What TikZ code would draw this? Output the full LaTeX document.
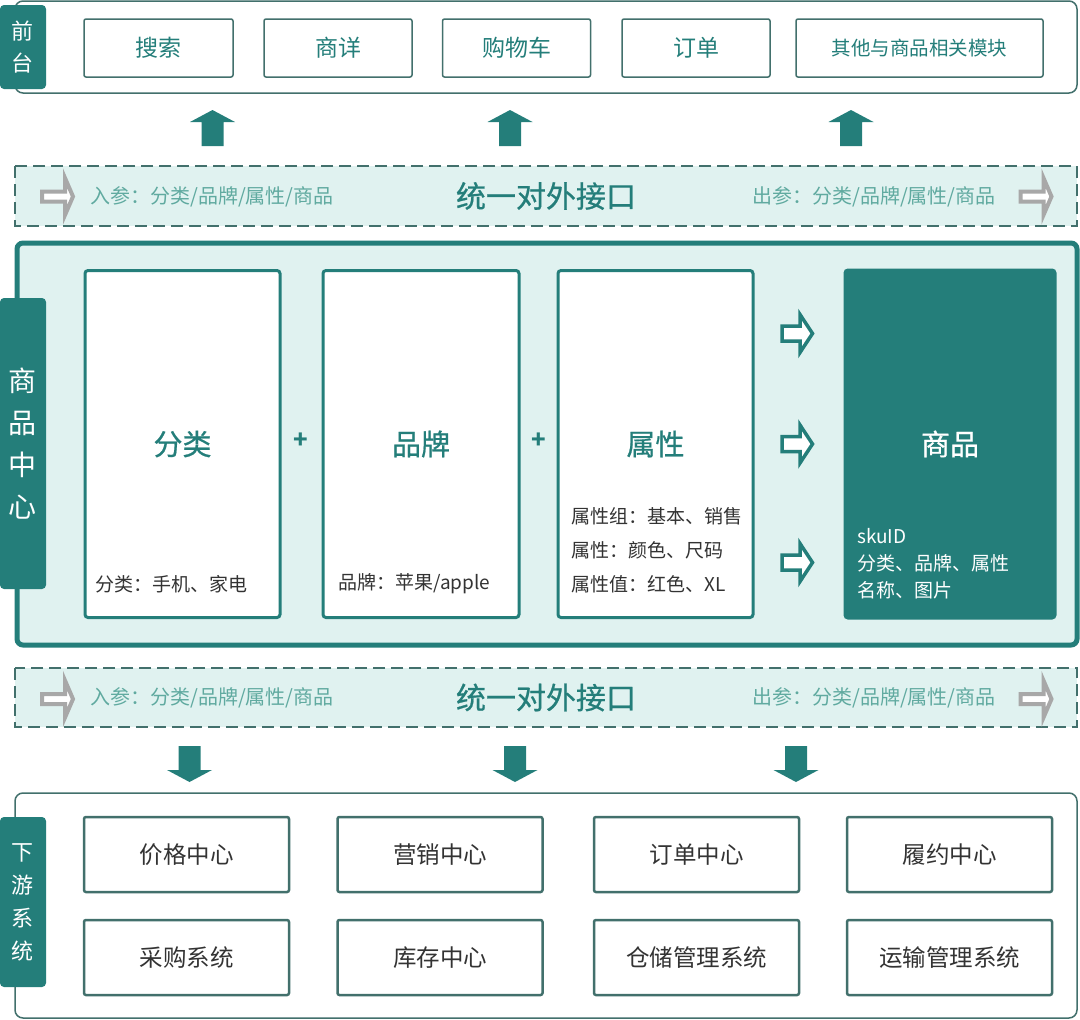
\documentclass[tikz,border=0pt]{standalone}
\usepackage{fontspec}
\setmainfont{Noto Sans CJK SC}
\newfontfamily\medfont[FakeBold=0.7]{Noto Sans CJK SC}
\usetikzlibrary{positioning}

\definecolor{dteal}{RGB}{36,126,122}
\definecolor{lteal}{RGB}{224,242,240}
\definecolor{mteal}{RGB}{96,170,160}
\definecolor{lineteal}{RGB}{66,112,108}
\definecolor{txtgray}{RGB}{51,51,51}
\definecolor{arrgray}{RGB}{168,168,168}

% font size and line distance, both in pt
\newcommand{\setfs}[2]{\fontsize{#1}{#2}\selectfont}

\tikzset{
  frame/.style={draw=lineteal, line width=1.5pt, rounded corners=8pt, fill=white},
  tab/.style={fill=dteal, rounded corners=4pt, text=white, align=center, minimum width=46pt, inner sep=0pt},
  topbox/.style={draw=lineteal, line width=1.5pt, rounded corners=2pt, fill=white, text=dteal, minimum height=58pt, inner sep=0pt, font=\setfs{23}{28}},
  band/.style={draw=lineteal, line width=1.5pt, dash pattern=on 12pt off 6pt, fill=lteal},
  bandtext/.style={text=mteal, inner sep=0pt, font=\setfs{20}{24}},
  bandtitle/.style={text=dteal, inner sep=0pt, font=\medfont\setfs{30}{36}},
  panel/.style={draw=dteal, line width=5pt, rounded corners=6pt, fill=lteal},
  partbox/.style={draw=dteal, line width=3pt, rounded corners=3pt, fill=white, minimum width=195pt, minimum height=347pt, inner sep=0pt},
  parttitle/.style={text=dteal, font=\medfont\setfs{29}{35}, inner sep=0pt},
  parttext/.style={text=txtgray, font=\setfs{19}{23}, align=left, inner sep=0pt, anchor=west},
  plus/.style={text=dteal, font=\bfseries\setfs{24}{28}, inner sep=0pt},
  sysbox/.style={draw=lineteal, line width=2.5pt, rounded corners=2pt, fill=white, text=txtgray, minimum width=205pt, minimum height=75pt, inner sep=0pt, font=\setfs{23.5}{28}},
  pics/uparrow/.style={code={\path[pic actions] (0,-18) -- (22.5,-6) -- (11,-6) -- (11,18) -- (-11,18) -- (-11,-6) -- (-22.5,-6) -- cycle;}},
  pics/downarrow/.style={code={\path[pic actions] (0,18) -- (22.5,6) -- (11,6) -- (11,-18) -- (-11,-18) -- (-11,6) -- (-22.5,6) -- cycle;}},
  pics/hollowarrow/.style={code={\path[pic actions] (-15,-7.5) -- (3,-7.5) -- (3,-19) -- (15.5,0) -- (3,19) -- (3,7.5) -- (-15,7.5) -- cycle;}},
  pics/grayarrow/.style={code={\path[pic actions] (-15.5,-5) -- (7.5,-5) -- (7.5,-18.5) -- (15.5,0) -- (7.5,18.5) -- (7.5,5) -- (-15.5,5) -- cycle;}},
}

\begin{document}
\begin{tikzpicture}[x=1pt,y=-1pt]
\useasboundingbox (0,0) rectangle (1080,1020);

% Front layer
\draw[frame] (15,1) rectangle (1077,93);
\node[tab, minimum height=84pt, font=\setfs{22}{32}] (fronttab) at (23,47) {前\\台};
\node[topbox, minimum width=149pt] (search) at (158.5,48) {搜索};
\node[topbox, minimum width=148pt] (detail) at (338,48) {商详};
\node[topbox, minimum width=148pt] (cart) at (516.5,48) {购物车};
\node[topbox, minimum width=148pt] (order) at (696,48) {订单};
\node[topbox, minimum width=247pt, font=\setfs{19.5}{24}] (others) at (919.5,48) {其他与商品相关模块};

% Arrows up to the front layer
\pic[fill=dteal] (upA) at (212.5,128) {uparrow};
\pic[fill=dteal] (upB) at (510,128) {uparrow};
\pic[fill=dteal] (upC) at (851,128) {uparrow};

% Upper interface band
\draw[band] (15,166) rectangle (1077,226);
\pic[draw=arrgray, line width=4pt, fill=white] (inA) at (57.5,196.5) {grayarrow};
\node[bandtext, anchor=west] (paramInA) at (90,196.5) {入参：分类/品牌/属性/商品};
\node[bandtitle] (apiA) at (546,196) {统一对外接口};
\node[bandtext, anchor=east] (paramOutA) at (996,196.5) {出参：分类/品牌/属性/商品};
\pic[draw=arrgray, line width=4pt, fill=white] (outA) at (1036,196.5) {grayarrow};

% Product center
\draw[panel] (17,243) rectangle (1077,645);
\node[tab, minimum height=291pt, font=\setfs{28}{42}] (centertab) at (23,443.5) {商\\品\\中\\心};

\node[partbox] (category) at (182.5,444) {};
\node[parttitle] at (category.center) {分类};
\node[parttext] (categoryText) at (95,584) {分类：手机、家电};

\node[plus] (plusA) at (301,441) {+};

\node[partbox, minimum width=196pt] (brand) at (421,444) {};
\node[parttitle] at (brand.center) {品牌};
\node[parttext] (brandText) at (338,584) {品牌：苹果/apple};

\node[plus] (plusB) at (539,441) {+};

\node[partbox] (attr) at (655.5,444) {};
\node[parttitle] at (attr.center) {属性};
\node[parttext, font=\setfs{19}{34}] (attrText) at (571,550) {属性组：基本、销售\\属性：颜色、尺码\\属性值：红色、XL};

\pic[draw=dteal, line width=3.5pt, fill=white] (toSkuA) at (797,333.5) {hollowarrow};
\pic[draw=dteal, line width=3.5pt, fill=white] (toSkuB) at (797,444) {hollowarrow};
\pic[draw=dteal, line width=3.5pt, fill=white] (toSkuC) at (797,562.5) {hollowarrow};

\node[partbox, fill=dteal, minimum width=210pt, minimum height=348pt] (sku) at (950,444) {};
\node[parttitle, text=white] at (sku.center) {商品};
\node[parttext, text=white, font=\setfs{19}{27}] (skuText) at (857,564) {skuID\\分类、品牌、属性\\名称、图片};

% Lower interface band
\draw[band] (15,668) rectangle (1077,727);
\pic[draw=arrgray, line width=4pt, fill=white] (inB) at (57.5,699) {grayarrow};
\node[bandtext, anchor=west] (paramInB) at (90,698) {入参：分类/品牌/属性/商品};
\node[bandtitle] (apiB) at (546,697.5) {统一对外接口};
\node[bandtext, anchor=east] (paramOutB) at (996,698) {出参：分类/品牌/属性/商品};
\pic[draw=arrgray, line width=4pt, fill=white] (outB) at (1036,699) {grayarrow};

% Arrows down to the downstream systems
\pic[fill=dteal] (downA) at (189.5,764) {downarrow};
\pic[fill=dteal] (downB) at (515,764) {downarrow};
\pic[fill=dteal] (downC) at (796,764) {downarrow};

% Downstream systems
\draw[frame] (15,793) rectangle (1077,1018);
\node[tab, minimum height=170pt, font=\setfs{22}{33}] (downtab) at (23,902) {下\\游\\系\\统};

\node[sysbox] (price) at (186.5,854.5) {价格中心};
\node[sysbox] (promo) at (440,854.5) {营销中心};
\node[sysbox] (orders) at (696.5,854.5) {订单中心};
\node[sysbox] (fulfil) at (949.5,854.5) {履约中心};
\node[sysbox] (purchase) at (186.5,957.5) {采购系统};
\node[sysbox] (stock) at (440,957.5) {库存中心};
\node[sysbox] (wms) at (696.5,957.5) {仓储管理系统};
\node[sysbox] (tms) at (949.5,957.5) {运输管理系统};

\end{tikzpicture}
\end{document}
